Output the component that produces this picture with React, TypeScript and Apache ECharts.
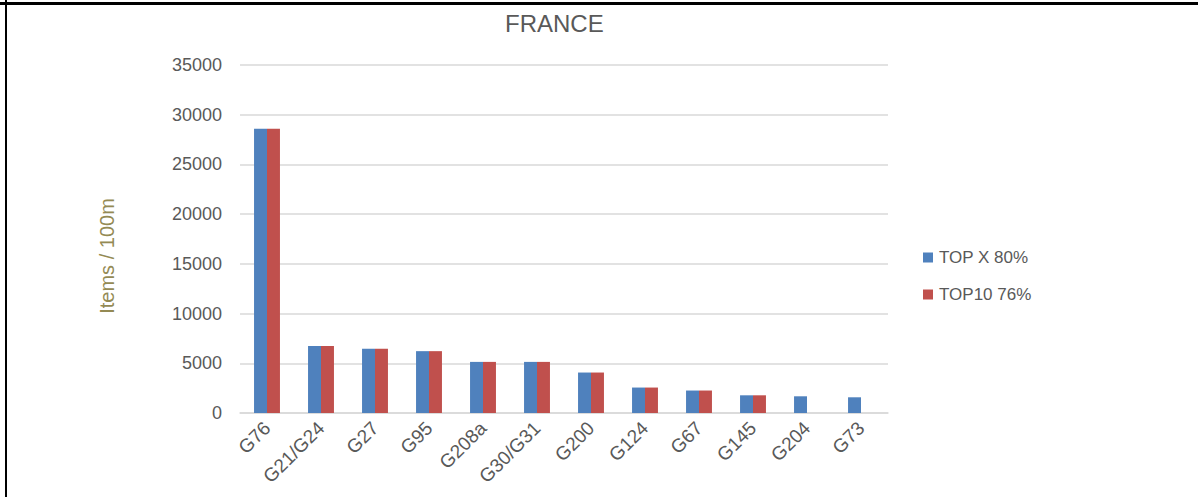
import React, { useEffect, useRef } from "react";
import * as echarts from "echarts";

const categories = ["G76", "G21/G24", "G27", "G95", "G208a", "G30/G31", "G200", "G124", "G67", "G145", "G204", "G73"];
const topX80 = [28600, 6750, 6450, 6220, 5140, 5140, 4070, 2560, 2260, 1780, 1680, 1580];
const top10_76 = [28600, 6750, 6450, 6220, 5140, 5140, 4070, 2560, 2260, 1780, null, null];
const seriesNames = ["TOP X 80%", "TOP10 76%"];
const yTicks = { min: 0, max: 35000, interval: 5000 };

const FONT = "'Liberation Sans', Arial, sans-serif";
const TXT = "#595959";

export default function App() {
  const ref = useRef<HTMLDivElement>(null);
  useEffect(() => {
    if (!ref.current) return;
    const chart = echarts.init(ref.current, undefined, { renderer: "svg" });
    chart.setOption({
      animation: false,
      backgroundColor: "#ffffff",
      textStyle: { fontFamily: FONT },
      title: {
        text: "FRANCE",
        left: 500,
        top: 6,
        textStyle: { fontFamily: FONT, fontSize: 24, fontWeight: "normal", color: TXT },
      },
      grid: { left: 240, top: 65, width: 648, height: 348, containLabel: false },
      legend: {
        orient: "vertical",
        left: 918,
        top: 244,
        itemWidth: 10,
        itemHeight: 10,
        itemGap: 20,
        icon: "rect",
        textStyle: { fontFamily: FONT, fontSize: 17, color: TXT, padding: [0, 0, 0, 1] },
        data: seriesNames,
      },
      xAxis: {
        type: "category",
        data: categories,
        axisLine: { lineStyle: { color: "#D9D9D9", width: 1.5 } },
        axisTick: { show: false },
        axisLabel: { rotate: 45, color: TXT, fontFamily: FONT, fontSize: 19, margin: 12, interval: 0 },
      },
      yAxis: {
        type: "value",
        min: yTicks.min,
        max: yTicks.max,
        interval: yTicks.interval,
        axisLine: { show: false },
        axisTick: { show: false },
        splitLine: { lineStyle: { color: "#D9D9D9", width: 1.5 } },
        axisLabel: { color: TXT, fontFamily: FONT, fontSize: 18, margin: 18, formatter: (v: number) => String(v) },
      },
      series: [
        {
          name: seriesNames[0],
          type: "bar",
          data: topX80,
          itemStyle: { color: "#4F81BD" },
          barGap: "0%",
          barCategoryGap: "52%",
        },
        {
          name: seriesNames[1],
          type: "bar",
          data: top10_76,
          itemStyle: { color: "#C0504D" },
          barGap: "0%",
          barCategoryGap: "52%",
        },
      ],
      graphic: [
        { type: "rect", shape: { x: 0, y: 2, width: 1198, height: 3 }, style: { fill: "#000" } },
        { type: "rect", shape: { x: 5, y: 0, width: 2, height: 497 }, style: { fill: "#000" } },
        {
          type: "text",
          x: 107,
          y: 256,
          rotation: Math.PI / 2,
          style: {
            text: "Items / 100m",
            fill: "#948A54",
            font: `20px ${FONT}`,
            align: "center",
            verticalAlign: "middle",
          },
        },
      ],
    });
    return () => chart.dispose();
  }, []);
  return <div ref={ref} style={{ position: "fixed", left: 0, top: 0, width: 1198, height: 497 }} />;
}
